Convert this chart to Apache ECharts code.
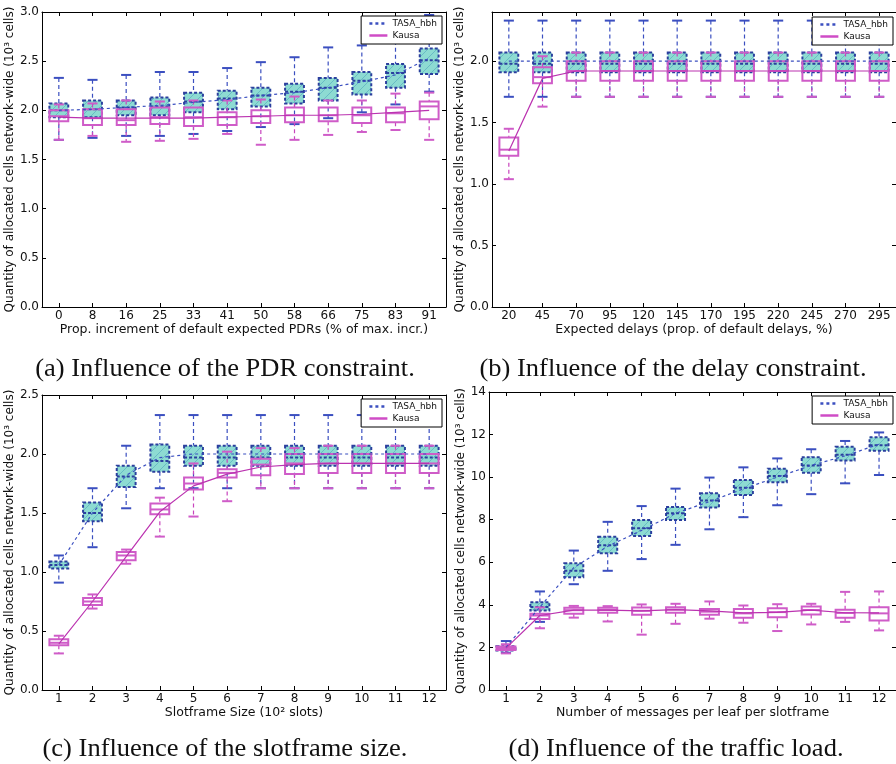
<!doctype html>
<html lang="en">
<head>
<meta charset="UTF-8">
<title>Allocated cells network-wide</title>
<script src="https://cdn.jsdelivr.net/npm/echarts@6.0.0/dist/echarts.min.js"></script>
<style>
    html, body { margin: 0; padding: 0; background: #fff; }
    #chart { width: 896px; height: 764px; }
</style>
</head>
<body>
<div id="chart"></div>
<script>
    //=================== data: [min, q1, median, q3, max] per category ==================
    var pdrCats = ['0', '8', '16', '25', '33', '41', '50', '58', '66', '75', '83', '91'];
    var pdrTasa = [[1.70, 1.93, 2.00, 2.07, 2.33], [1.72, 1.93, 2.01, 2.10, 2.31], [1.74, 1.95, 2.03, 2.10, 2.36],
        [1.74, 1.95, 2.04, 2.13, 2.39], [1.76, 1.98, 2.09, 2.18, 2.39], [1.79, 2.01, 2.12, 2.20, 2.43],
        [1.83, 2.04, 2.15, 2.23, 2.49], [1.86, 2.07, 2.19, 2.27, 2.54], [1.92, 2.10, 2.23, 2.33, 2.64],
        [1.98, 2.16, 2.30, 2.39, 2.66], [2.06, 2.23, 2.38, 2.47, 2.78], [2.19, 2.37, 2.51, 2.63, 2.97]];
    var pdrTasaMean = [2.00, 2.01, 2.03, 2.05, 2.08, 2.11, 2.15, 2.18, 2.23, 2.29, 2.36, 2.53];
    var pdrKausa = [[1.70, 1.89, 1.94, 2.00, 2.06], [1.74, 1.85, 1.92, 2.01, 2.07], [1.68, 1.85, 1.90, 2.01, 2.10],
        [1.69, 1.86, 1.93, 2.03, 2.09], [1.71, 1.84, 1.93, 2.03, 2.10], [1.76, 1.85, 1.93, 1.98, 2.10],
        [1.65, 1.87, 1.94, 2.00, 2.11], [1.70, 1.88, 1.95, 2.03, 2.14], [1.75, 1.89, 1.95, 2.03, 2.10],
        [1.78, 1.87, 1.95, 2.03, 2.10], [1.80, 1.88, 1.97, 2.03, 2.17], [1.70, 1.91, 2.04, 2.09, 2.18]];
    var pdrKausaMean = [1.93, 1.92, 1.92, 1.92, 1.92, 1.93, 1.94, 1.95, 1.95, 1.96, 1.98, 2.00];

    var delayCats = ['20', '45', '70', '95', '120', '145', '170', '195', '220', '245', '270', '295'];
    var delayTasa = [[1.71, 1.91, 1.98, 2.07, 2.33], [1.71, 1.91, 1.98, 2.07, 2.33], [1.71, 1.91, 1.98, 2.07, 2.33],
        [1.71, 1.91, 1.98, 2.07, 2.33], [1.71, 1.91, 1.98, 2.07, 2.33], [1.71, 1.91, 1.98, 2.07, 2.33],
        [1.71, 1.91, 1.98, 2.07, 2.33], [1.71, 1.91, 1.98, 2.07, 2.33], [1.71, 1.91, 1.98, 2.07, 2.33],
        [1.71, 1.91, 1.98, 2.07, 2.33], [1.71, 1.91, 1.98, 2.07, 2.33], [1.71, 1.91, 1.98, 2.07, 2.33]];
    var delayTasaMean = [2.00, 2.00, 2.00, 2.00, 2.00, 2.00, 2.00, 2.00, 2.00, 2.00, 2.00, 2.00];
    var delayKausa = [[1.04, 1.23, 1.28, 1.38, 1.45], [1.63, 1.82, 1.87, 1.95, 2.04], [1.71, 1.84, 1.92, 2.00, 2.07],
        [1.71, 1.84, 1.92, 2.00, 2.07], [1.71, 1.84, 1.92, 2.00, 2.07], [1.71, 1.84, 1.92, 2.00, 2.07],
        [1.71, 1.84, 1.92, 2.00, 2.07], [1.71, 1.84, 1.92, 2.00, 2.07], [1.71, 1.84, 1.92, 2.00, 2.07],
        [1.71, 1.84, 1.92, 2.00, 2.07], [1.71, 1.84, 1.92, 2.00, 2.07], [1.71, 1.84, 1.92, 2.00, 2.07]];
    var delayKausaMean = [1.27, 1.86, 1.92, 1.92, 1.92, 1.92, 1.92, 1.92, 1.92, 1.92, 1.92, 1.92];

    var slotCats = ['1', '2', '3', '4', '5', '6', '7', '8', '9', '10', '11', '12'];
    var slotTasa = [[0.91, 1.03, 1.06, 1.09, 1.14], [1.21, 1.43, 1.50, 1.59, 1.71], [1.54, 1.72, 1.81, 1.90, 2.07],
        [1.71, 1.85, 1.94, 2.08, 2.33], [1.71, 1.90, 1.97, 2.07, 2.33], [1.71, 1.90, 1.97, 2.07, 2.33],
        [1.71, 1.90, 1.97, 2.07, 2.33], [1.71, 1.90, 1.97, 2.07, 2.33], [1.71, 1.90, 1.97, 2.07, 2.33],
        [1.71, 1.90, 1.97, 2.07, 2.33], [1.71, 1.90, 1.97, 2.07, 2.33], [1.71, 1.90, 1.97, 2.07, 2.33]];
    var slotTasaMean = [1.06, 1.50, 1.82, 1.97, 2.00, 2.00, 2.00, 2.00, 2.00, 2.00, 2.00, 2.00];
    var slotKausa = [[0.31, 0.38, 0.40, 0.43, 0.46], [0.69, 0.72, 0.75, 0.78, 0.81], [1.07, 1.10, 1.14, 1.17, 1.19],
        [1.30, 1.49, 1.53, 1.58, 1.63], [1.47, 1.70, 1.75, 1.80, 1.92], [1.60, 1.80, 1.84, 1.87, 2.02],
        [1.71, 1.82, 1.91, 1.96, 2.05], [1.71, 1.83, 1.92, 2.00, 2.05], [1.71, 1.84, 1.92, 2.00, 2.07],
        [1.71, 1.84, 1.92, 2.00, 2.07], [1.71, 1.84, 1.92, 2.00, 2.07], [1.71, 1.84, 1.92, 2.00, 2.07]];
    var slotKausaMean = [0.39, 0.75, 1.13, 1.51, 1.73, 1.83, 1.89, 1.91, 1.92, 1.92, 1.92, 1.92];

    var trafficCats = ['1', '2', '3', '4', '5', '6', '7', '8', '9', '10', '11', '12'];
    var trafficTasa = [[1.75, 1.86, 1.95, 2.05, 2.30], [3.20, 3.73, 3.90, 4.12, 4.63], [4.97, 5.30, 5.60, 5.95, 6.55],
        [5.60, 6.42, 6.80, 7.20, 7.90], [6.15, 7.24, 7.60, 7.99, 8.64], [6.82, 7.99, 8.30, 8.60, 9.46],
        [7.55, 8.57, 8.90, 9.24, 9.98], [8.12, 9.16, 9.50, 9.87, 10.46], [8.68, 9.76, 10.05, 10.40, 10.88],
        [9.20, 10.21, 10.55, 10.93, 11.31], [9.71, 10.78, 11.05, 11.43, 11.70], [10.10, 11.24, 11.50, 11.87, 12.10]];
    var trafficTasaMean = [2.00, 3.90, 5.75, 6.75, 7.50, 8.30, 8.85, 9.45, 10.00, 10.55, 11.00, 11.55];
    var trafficKausa = [[1.72, 1.88, 1.97, 2.04, 2.15], [2.90, 3.34, 3.50, 3.58, 3.88], [3.40, 3.58, 3.75, 3.86, 3.95],
        [3.22, 3.63, 3.76, 3.86, 3.94], [2.60, 3.53, 3.72, 3.88, 4.02], [3.11, 3.63, 3.78, 3.89, 4.05],
        [3.35, 3.53, 3.68, 3.80, 4.16], [3.16, 3.39, 3.60, 3.80, 3.97], [2.77, 3.42, 3.66, 3.84, 4.03],
        [3.08, 3.55, 3.76, 3.92, 4.05], [3.20, 3.39, 3.62, 3.77, 4.61], [2.80, 3.27, 3.60, 3.89, 4.63]];
    var trafficKausaMean = [1.97, 3.50, 3.75, 3.75, 3.72, 3.78, 3.72, 3.62, 3.65, 3.75, 3.63, 3.62];

    var yName = 'Quantity of allocated cells network-wide (10³ cells)';
    var FONT = 'DejaVu Sans';

    //=================== hatch pattern for the TASA boxes ==================
    var hatch = document.createElement('canvas');
    hatch.width = 9;
    hatch.height = 9;
    var hctx = hatch.getContext('2d');
    hctx.fillStyle = '#8ddbd2';
    hctx.fillRect(0, 0, 9, 9);
    hctx.strokeStyle = '#5fb3c2';
    hctx.lineWidth = 0.8;
    hctx.beginPath();
    hctx.moveTo(0, 9); hctx.lineTo(9, 0);
    hctx.moveTo(-1, 1); hctx.lineTo(1, -1);
    hctx.moveTo(8, 10); hctx.lineTo(10, 8);
    hctx.stroke();

    var tasaStyle = {
        box: '#2b3f9e', whisker: '#3b4fc0', cap: '#3b4fc0',
        fill: { image: hatch, repeat: 'repeat' }, dash: [3, 2]
    };
    var kausaStyle = {
        box: '#cf5cc8', whisker: '#c844bd', cap: '#cf5cc8',
        fill: 'rgba(0,0,0,0)', dash: null
    };

    // custom box + whisker drawn through the axes
    function boxRenderer(st) {
        return function (params, api) {
            var x = api.value(0);
            var lo = api.coord([x, api.value(1)]);
            var q1 = api.coord([x, api.value(2)]);
            var md = api.coord([x, api.value(3)]);
            var q3 = api.coord([x, api.value(4)]);
            var hi = api.coord([x, api.value(5)]);
            var cx = lo[0];
            var band = api.size([1, 0])[0];
            var hw = band * 0.28;
            var cw = band * 0.15;
            var wStyle = { stroke: st.whisker, lineWidth: 1.2, lineDash: [4, 3] };
            var cStyle = { stroke: st.cap, lineWidth: 2 };
            return {
                type: 'group',
                children: [
                    { type: 'line', shape: { x1: cx, y1: hi[1], x2: cx, y2: q3[1] }, style: wStyle },
                    { type: 'line', shape: { x1: cx, y1: q1[1], x2: cx, y2: lo[1] }, style: wStyle },
                    { type: 'line', shape: { x1: cx - cw, y1: hi[1], x2: cx + cw, y2: hi[1] }, style: cStyle },
                    { type: 'line', shape: { x1: cx - cw, y1: lo[1], x2: cx + cw, y2: lo[1] }, style: cStyle },
                    {
                        type: 'rect',
                        shape: { x: cx - hw, y: q3[1], width: hw * 2, height: q1[1] - q3[1] },
                        style: { fill: st.fill, stroke: st.box, lineWidth: 2, lineDash: st.dash }
                    },
                    {
                        type: 'line',
                        shape: { x1: cx - hw, y1: md[1], x2: cx + hw, y2: md[1] },
                        style: { stroke: st.box, lineWidth: 2, lineDash: st.dash }
                    }
                ]
            };
        };
    }

    function boxData(stats) {
        return stats.map(function (s, i) { return [i].concat(s); });
    }

    //=================== panels ==================
    var panels = [
        { cats: pdrCats, tasa: pdrTasa, tasaMean: pdrTasaMean, kausa: pdrKausa, kausaMean: pdrKausaMean,
          grid: { left: 42, top: 12, width: 404, height: 295 }, yMax: 3.0, yStep: 0.5, digits: 1,
          xName: 'Prop. increment of default expected PDRs (% of max. incr.)', nameGap: 25, xNameGap: 15,
          legend: { right: 454, top: 16 } },
        { cats: delayCats, tasa: delayTasa, tasaMean: delayTasaMean, kausa: delayKausa, kausaMean: delayKausaMean,
          grid: { left: 492, top: 12, width: 404, height: 295 }, yMax: 2.4, yStep: 0.5, digits: 1,
          xName: 'Expected delays (prop. of default delays, %)', nameGap: 25, xNameGap: 15,
          legend: { right: 3, top: 17 } },
        { cats: slotCats, tasa: slotTasa, tasaMean: slotTasaMean, kausa: slotKausa, kausaMean: slotKausaMean,
          grid: { left: 42, top: 395, width: 404, height: 295 }, yMax: 2.5, yStep: 0.5, digits: 1,
          xName: 'Slotframe Size (10² slots)', nameGap: 25, xNameGap: 16,
          legend: { right: 454, top: 399 } },
        { cats: trafficCats, tasa: trafficTasa, tasaMean: trafficTasaMean, kausa: trafficKausa, kausaMean: trafficKausaMean,
          grid: { left: 489, top: 392, width: 407, height: 298 }, yMax: 14, yStep: 2, digits: 0,
          xName: 'Number of messages per leaf per slotframe', nameGap: 22, xNameGap: 15,
          legend: { right: 3, top: 396 } }
    ];

    var grids = [], xAxes = [], yAxes = [], series = [], legends = [];
    var axisLine = { show: true, onZero: false, lineStyle: { color: '#000', width: 1 } };
    var tick = { show: true, inside: true, length: 4, lineStyle: { color: '#000' } };
    var catTick = { show: true, inside: true, length: 4, alignWithLabel: true, lineStyle: { color: '#000' } };

    panels.forEach(function (p, gi) {
        grids.push(p.grid);
        // bottom + top category axes
        xAxes.push({
            type: 'category', gridIndex: gi, data: p.cats, position: 'bottom',
            axisLine: axisLine, axisTick: catTick,
            axisLabel: { margin: 3, fontFamily: FONT, fontSize: 12, color: '#111' },
            name: p.xName, nameLocation: 'middle', nameGap: p.xNameGap,
            nameTextStyle: { fontFamily: FONT, fontSize: 12.5, color: '#111' }
        });
        xAxes.push({
            type: 'category', gridIndex: gi, data: p.cats, position: 'top',
            axisLine: axisLine, axisTick: catTick, axisLabel: { show: false }
        });
        // left + right value axes
        yAxes.push({
            type: 'value', gridIndex: gi, min: 0, max: p.yMax, interval: p.yStep, position: 'left',
            axisLine: axisLine, axisTick: tick, splitLine: { show: false },
            axisLabel: {
                margin: 3, fontFamily: FONT, fontSize: 12, color: '#111', showMaxLabel: p.yMax % p.yStep === 0,
                formatter: function (v) { return v.toFixed(p.digits); }
            },
            name: yName, nameLocation: 'middle', nameGap: p.nameGap, nameRotate: 90,
            nameTextStyle: { fontFamily: FONT, fontSize: 12, color: '#111' }
        });
        yAxes.push({
            type: 'value', gridIndex: gi, min: 0, max: p.yMax, interval: p.yStep, position: 'right',
            axisLine: axisLine, axisTick: tick, splitLine: { show: false }, axisLabel: { show: false }
        });

        var xi = gi * 2, yi = gi * 2;
        series.push({
            name: 'TASA_hbh box', type: 'custom', xAxisIndex: xi, yAxisIndex: yi, z: 2,
            renderItem: boxRenderer(tasaStyle), encode: { x: 0, y: [1, 2, 3, 4, 5] },
            data: boxData(p.tasa), silent: true
        });
        series.push({
            name: 'Kausa box', type: 'custom', xAxisIndex: xi, yAxisIndex: yi, z: 3,
            renderItem: boxRenderer(kausaStyle), encode: { x: 0, y: [1, 2, 3, 4, 5] },
            data: boxData(p.kausa), silent: true
        });
        series.push({
            name: 'TASA_hbh', type: 'line', xAxisIndex: xi, yAxisIndex: yi, z: 4,
            data: p.tasaMean, symbol: 'none', silent: true,
            lineStyle: { color: '#3b4fc0', width: 1.2, type: [3, 3] }, itemStyle: { color: '#3b4fc0' }
        });
        series.push({
            name: 'Kausa', type: 'line', xAxisIndex: xi, yAxisIndex: yi, z: 4,
            data: p.kausaMean, symbol: 'none', silent: true,
            lineStyle: { color: '#bb33b0', width: 1.2 }, itemStyle: { color: '#bb33b0' }
        });

        // legend icons: line only, the symbol is made invisible
        legends.push({
            right: p.legend.right, top: p.legend.top, orient: 'vertical',
            backgroundColor: '#fff', borderColor: '#000', borderWidth: 1, borderRadius: 0,
            padding: [3, 5, 4, 7], itemGap: 3, itemWidth: 18, itemHeight: 10,
            selectedMode: false,
            textStyle: { fontFamily: FONT, fontSize: 9, color: '#111' },
            data: [
                { name: 'TASA_hbh', itemStyle: { opacity: 0 }, lineStyle: { width: 2.5, type: [3, 3], color: '#3b4fc0' } },
                { name: 'Kausa', itemStyle: { opacity: 0 }, lineStyle: { width: 2.5, color: '#cf4cc6' } }
            ]
        });
    });

    // sub-figure captions
    var captionFont = '25px "Liberation Serif"';
    var captions = [
        { x: 225, y: 369, text: '(a) Influence of the PDR constraint.' },
        { x: 673, y: 369, text: '(b) Influence of the delay constraint.' },
        { x: 225, y: 749, text: '(c) Influence of the slotframe size.' },
        { x: 676, y: 749, text: '(d) Influence of the traffic load.' }
    ];

    var chart = echarts.init(document.getElementById('chart'), null, { renderer: 'canvas' });
    chart.setOption({
        backgroundColor: '#fff',
        animation: false,
        grid: grids,
        xAxis: xAxes,
        yAxis: yAxes,
        legend: legends,
        series: series,
        graphic: captions.map(function (c) {
            return {
                type: 'text', x: c.x, y: c.y, scaleX: 1.06, silent: true,
                style: { text: c.text, font: captionFont, fill: '#111', align: 'center', verticalAlign: 'middle' }
            };
        })
    });
</script>
</body>
</html>
